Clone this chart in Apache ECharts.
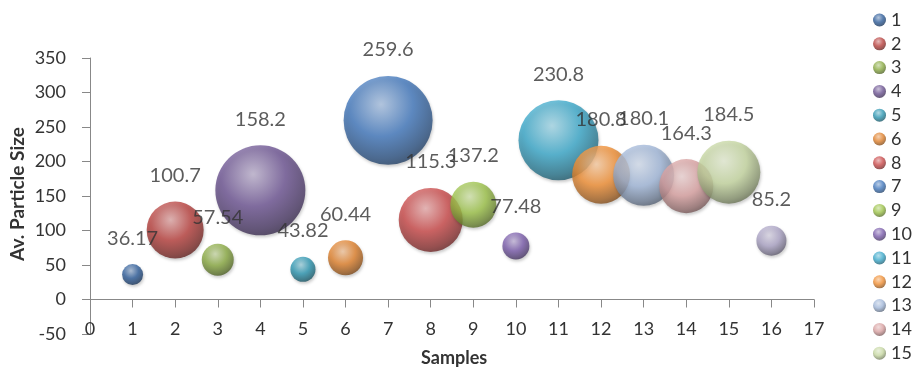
<!DOCTYPE html>
<html>
<head>
<meta charset="utf-8">
<script src="https://cdn.jsdelivr.net/npm/echarts@6/dist/echarts.min.js"></script>
<style>
html,body{margin:0;padding:0;background:#fff;}
#chart{width:917px;height:374px;}
</style>
</head>
<body>
<div id="chart"></div>
<script>
// ---- data ----
const seriesNames = ['1','2','3','4','5','6','8','7','9','10','11','12','13','14','15','16'];
const sampleX     = [1, 2, 3, 4, 5, 6, 8, 7, 9, 10, 11, 12, 13, 14, 15, 16];
const particleSize = [36.17, 100.7, 57.54, 158.2, 43.82, 60.44, 115.3, 259.6, 137.2, 77.48, 230.8, 180.8, 180.1, 164.3, 184.5, 85.2];
const bubbleSize  = [4.4, 32.5, 10.2, 81, 6.3, 12.3, 41, 79.2, 21.2, 7.3, 64, 33.6, 37.2, 29.2, 39.7, 9];
const legendNames = ['1','2','3','4','5','6','8','7','9','10','11','12','13','14','15'];
const xTitle = 'Samples';
const yTitle = 'Av. Particle Size';
const yTicks = { min: -50, max: 350, interval: 50 };
const xTicks = { min: 0, max: 17, interval: 1 };

// ---- styles ----
const baseColors = ['#2E5D9A','#B8403D','#8AAA42','#6C5392','#2C96B1','#E0812C','#C94848','#4177BC',
                    '#9CC248','#7A5CAB','#3AA8CA','#F08E33','#A0B6D8','#D8A0A0','#C5D6A0','#ACA4C6'];
const MAX_D = 90;
const maxSize = Math.max.apply(null, bubbleSize);
function diam(s){ return MAX_D * Math.sqrt(s / maxSize); }

function hexToRgb(h){ h=h.replace('#',''); return [parseInt(h.substr(0,2),16),parseInt(h.substr(2,2),16),parseInt(h.substr(4,2),16)]; }
function mix(h, target, t){ const c=hexToRgb(h); return 'rgb('+c.map((v,i)=>Math.round(v+(target[i]-v)*t)).join(',')+')'; }
function sphere(h){
  return new echarts.graphic.RadialGradient(0.42, 0.32, 0.72, [
    {offset:0, color: mix(h,[255,255,255],0.55)},
    {offset:0.5, color: h},
    {offset:0.85, color: mix(h,[0,0,0],0.32)},
    {offset:1, color: mix(h,[0,0,0],0.5)}
  ]);
}

const FONT = 'Lato';
const TXT = '#333';
const series = seriesNames.map((n, i) => ({
  name: n,
  type: 'scatter',
  data: [[sampleX[i], particleSize[i], bubbleSize[i]]],
  symbolSize: v => diam(v[2]),
  itemStyle: { color: sphere(baseColors[i]), shadowBlur: 3, shadowColor: 'rgba(0,0,0,0.25)', shadowOffsetX: 1, shadowOffsetY: 2 },
  emphasis: { disabled: true },
  z: 2
}));
// label layer on top
series.push({
  name: 'labels',
  type: 'scatter',
  data: seriesNames.map((n, i) => [sampleX[i], particleSize[i], bubbleSize[i]]),
  symbolSize: v => diam(v[2]),
  itemStyle: { color: 'rgba(0,0,0,0)' },
  silent: true,
  z: 5,
  label: {
    show: true, position: 'top', distance: 16,
    formatter: p => String(p.value[1]),
    color: TXT, fontFamily: FONT, fontSize: 20
  }
});

const chart = echarts.init(document.getElementById('chart'), null, {renderer: 'canvas'});
chart.setOption({
  animation: false,
  backgroundColor: '#fff',
  title: {
    text: xTitle, left: 421, bottom: 5, padding: 0,
    textStyle: { fontFamily: FONT, fontSize: 18, lineHeight: 22, fontWeight: 'bold', color: TXT }
  },
  grid: { left: 90, right: 103, top: 58, bottom: 40, containLabel: false, outerBoundsMode: 'none' },
  legend: {
    data: legendNames,
    orient: 'vertical',
    left: 873, top: 11, padding: 0, height: 420,
    itemWidth: 13, itemHeight: 13, itemGap: 5.8,
    icon: 'circle',
    textStyle: { fontFamily: FONT, fontSize: 18, lineHeight: 18, color: TXT },
    selectedMode: false
  },
  graphic: [
    { type: 'text', x: 18, y: 194, rotation: Math.PI / 2, z: 10,
      style: { text: yTitle, font: 'bold 19px Lato', fill: TXT, align: 'center', verticalAlign: 'middle' } }
  ],
  xAxis: {
    type: 'value',
    min: xTicks.min, max: xTicks.max, interval: xTicks.interval,
    axisLine: { show: true, onZero: true, lineStyle: { color: '#888', width: 1 } },
    axisTick: { show: true, length: 8, lineStyle: { color: '#888' } },
    axisLabel: { margin: -14, fontFamily: FONT, fontSize: 18, color: TXT },
    splitLine: { show: false }
  },
  yAxis: {
    type: 'value',
    min: yTicks.min, max: yTicks.max, interval: yTicks.interval,
    axisLine: { show: true, onZero: false, lineStyle: { color: '#888', width: 1 } },
    axisTick: { show: true, length: 8, lineStyle: { color: '#888' } },
    axisLabel: { margin: 24, fontFamily: FONT, fontSize: 18, color: TXT },
    splitLine: { show: false }
  },
  series: series
});
</script>
</body>
</html>
